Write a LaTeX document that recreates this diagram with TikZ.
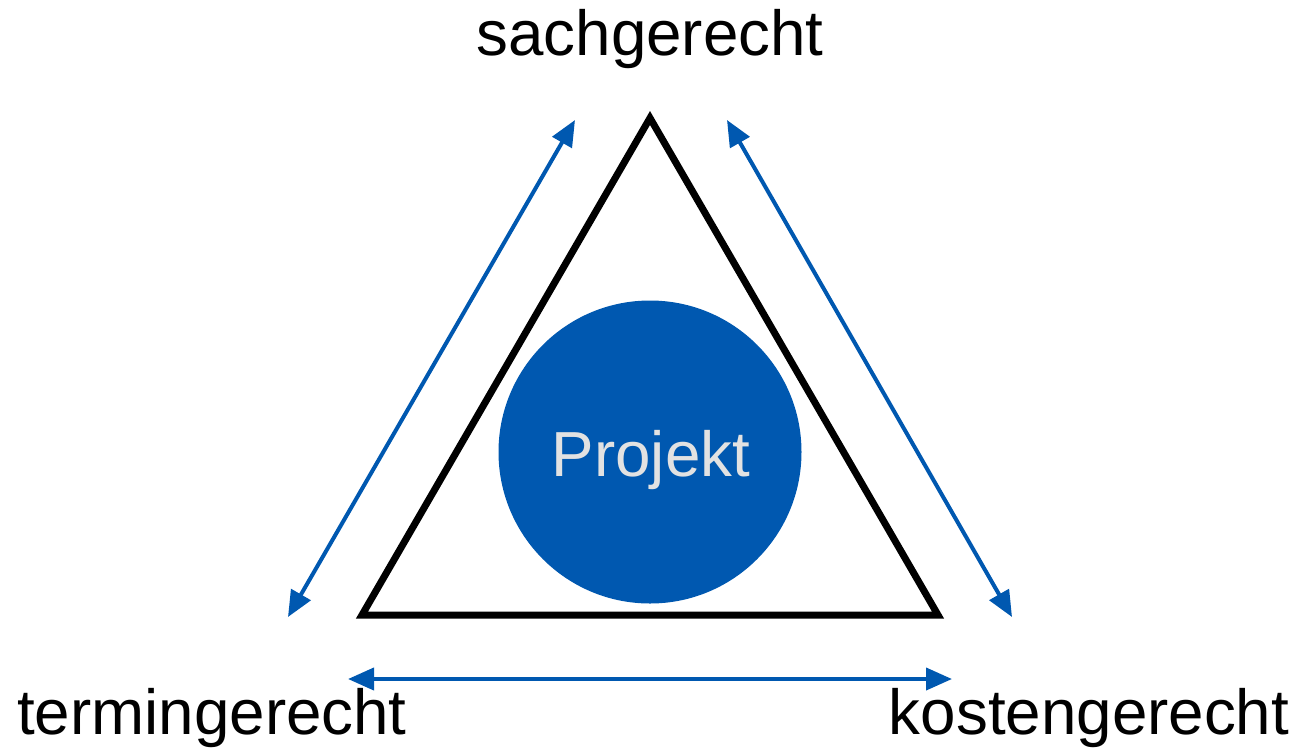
\documentclass[tikz,border=0pt]{standalone}
\usepackage{fontspec}
\setmainfont{Liberation Sans}
\usetikzlibrary{arrows.meta}
\definecolor{projblue}{HTML}{0058B0}
\definecolor{projtext}{HTML}{E2E2E2}
\tikzset{
  label/.style={anchor=base, inner sep=0pt, font=\fontsize{63.7}{70}\selectfont},
  relation/.style={draw=projblue, line width=4pt,
    {Triangle[length=26pt,width=22pt]}-{Triangle[length=26pt,width=22pt]}},
  frame/.style={draw=black, line width=7pt, line join=miter},
}
\begin{document}
\begin{tikzpicture}[x=1pt,y=-1pt]
  \useasboundingbox (0,0) rectangle (1299,748);

  % corners of the triangle
  \coordinate (top) at (650,118);
  \coordinate (bl) at (362,615);
  \coordinate (br) at (938,615);
  \draw[frame] (top) -- (bl) -- (br) -- cycle;

  % project circle
  \node[circle, fill=projblue, minimum size=303pt, inner sep=0pt] (proj) at (650,452) {};
  \node[label, text=projtext] (projtxt) at (651,476) {Projekt};

  % goals
  \node[label] (sach) at (650,55) {sachgerecht};
  \node[label] (termin) at (212,734) {termingerecht};
  \node[label] (kosten) at (1089,734) {kostengerecht};

  % arrow end points
  \coordinate (la) at (575,120);
  \coordinate (lb) at (288,617);
  \coordinate (ra) at (727,120);
  \coordinate (rb) at (1012,617);
  \coordinate (ba) at (348,679);
  \coordinate (bb) at (952,679);
  \draw[relation] (la) -- (lb);
  \draw[relation] (ra) -- (rb);
  \draw[relation] (ba) -- (bb);
\end{tikzpicture}
\end{document}
